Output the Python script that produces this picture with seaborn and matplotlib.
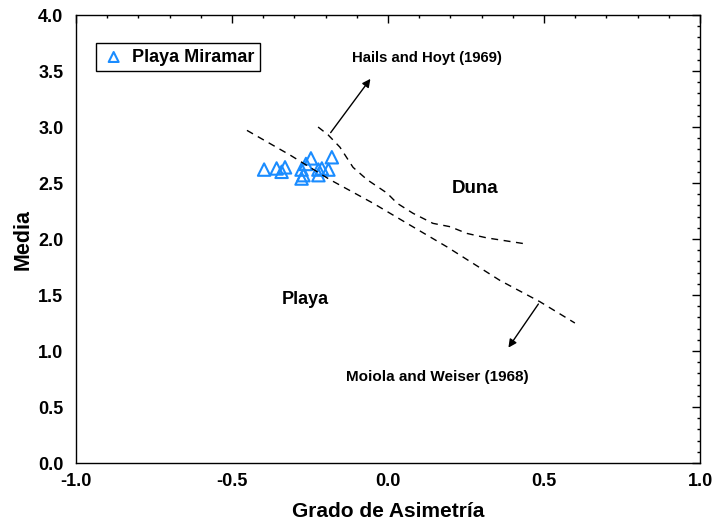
import matplotlib
matplotlib.use("Agg")
import matplotlib.pyplot as plt
import seaborn as sns
import pandas as pd
from matplotlib.ticker import MultipleLocator

# Playa Miramar samples (skewness vs mean)
asimetria = [-0.397, -0.357, -0.341, -0.330, -0.277, -0.271, -0.277,
             -0.263, -0.247, -0.223, -0.223, -0.212, -0.191, -0.180]
media = [2.62, 2.63, 2.60, 2.64, 2.62, 2.57, 2.54,
         2.67, 2.72, 2.62, 2.57, 2.63, 2.62, 2.73]

# Moiola and Weiser (1968) boundary
moiola_x = [-0.452, -0.314, -0.186, -0.048, 0.061, 0.189, 0.359, 0.487, 0.599]
moiola_y = [2.97, 2.75, 2.53, 2.32, 2.14, 1.93, 1.63, 1.44, 1.25]

# Hails and Hoyt (1969) boundary
hails_x = [-0.224, -0.192, -0.154, -0.112, -0.067, -0.003, 0.029, 0.080,
           0.144, 0.199, 0.253, 0.317, 0.433]
hails_y = [3.00, 2.93, 2.82, 2.64, 2.53, 2.41, 2.32, 2.23,
           2.14, 2.11, 2.05, 2.01, 1.96]

sns.set_style("white")
plt.rcParams['font.family'] = ['Liberation Sans', 'DejaVu Sans']
plt.rcParams['font.weight'] = 'bold'
plt.rcParams['text.color'] = 'black'
plt.rcParams['axes.labelcolor'] = 'black'
plt.rcParams['xtick.color'] = 'black'
plt.rcParams['ytick.color'] = 'black'

fig = plt.figure(figsize=(7.14, 5.27), dpi=100)
ax = fig.add_axes([0.1064, 0.1214, 0.874, 0.8501])

df = pd.DataFrame({'x': asimetria, 'y': media})
sns.scatterplot(data=df, x='x', y='y', marker='^', s=80, facecolor='none',
                edgecolor='#1a8cff', linewidth=1.5, label='Playa Miramar', ax=ax)

sns.lineplot(x=moiola_x, y=moiola_y, sort=False, color='black', lw=1,
             linestyle=(0, (5, 4)), ax=ax)
sns.lineplot(x=hails_x, y=hails_y, sort=False, color='black', lw=1,
             linestyle=(0, (5, 4)), ax=ax)

# arrows and labels
ax.annotate('', xy=(-0.051, 3.45), xytext=(-0.189, 2.93),
            arrowprops=dict(arrowstyle='-|>', color='black', lw=1, mutation_scale=12))
ax.annotate('', xy=(0.381, 1.01), xytext=(0.487, 1.44),
            arrowprops=dict(arrowstyle='-|>', color='black', lw=1, mutation_scale=12))
ax.text(0.125, 3.62, 'Hails and Hoyt (1969)', ha='center', va='center',
        fontsize=10.7, fontweight='bold')
ax.text(0.157, 0.77, 'Moiola and Weiser (1968)', ha='center', va='center',
        fontsize=11, fontweight='bold')
ax.text(0.28, 2.45, 'Duna', ha='center', va='center', fontsize=13.5, fontweight='bold')
ax.text(-0.266, 1.46, 'Playa', ha='center', va='center', fontsize=13, fontweight='bold')

ax.set_xlim(-1, 1)
ax.set_ylim(0, 4)
ax.xaxis.set_major_locator(MultipleLocator(0.5))
ax.xaxis.set_minor_locator(MultipleLocator(0.1))
ax.yaxis.set_major_locator(MultipleLocator(0.5))
ax.yaxis.set_minor_locator(MultipleLocator(0.1))
ax.set_xticks([-1, -0.5, 0, 0.5, 1])
ax.set_xticklabels(['-1.0', '-0.5', '0.0', '0.5', '1.0'])
ax.tick_params(which='both', direction='in', top=True, right=True,
               labelsize=13, color='black')
ax.tick_params(which='major', length=6, width=1)
ax.tick_params(which='minor', length=2.5, width=1)
ax.tick_params(axis='x', which='major', pad=7)
ax.tick_params(axis='y', which='major', pad=9)
for lab in ax.get_xticklabels() + ax.get_yticklabels():
    lab.set_fontweight('bold')
for sp in ax.spines.values():
    sp.set_color('black')
    sp.set_linewidth(1)

ax.set_xlabel('Grado de Asimetría', fontsize=15, fontweight='bold', labelpad=9)
ax.set_ylabel('Media', fontsize=15.5, fontweight='bold', labelpad=3)

leg = ax.legend(loc='upper left', bbox_to_anchor=(0.017, 0.957), fancybox=False,
                framealpha=1, edgecolor='black', prop={'weight': 'bold', 'size': 13},
                handletextpad=0.3, borderpad=0.3, handlelength=1.4, markerscale=0.8)
leg.get_frame().set_linewidth(1)

fig.savefig('out.png', dpi=100)
